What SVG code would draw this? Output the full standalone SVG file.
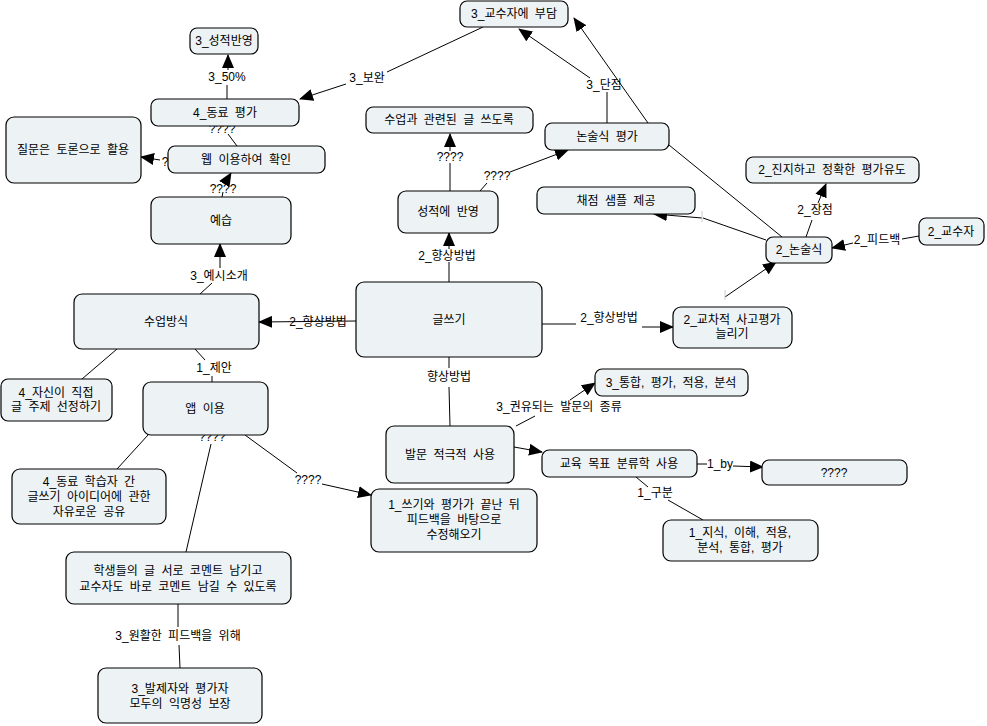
<svg xmlns="http://www.w3.org/2000/svg" width="987" height="726" viewBox="0 0 987 726">
<style>
.n rect{fill:#edf2f5;stroke:#000;stroke-width:1.2}
text{font-family:"Liberation Sans","Noto Sans CJK KR",sans-serif;font-size:12px;fill:#000;text-anchor:middle;word-spacing:3px}
.c line{stroke:#000;stroke-width:1}
.c line.t{stroke:#ccc}
.a{marker-end:url(#ah)}
</style>
<defs>
<marker id="ah" markerUnits="userSpaceOnUse" markerWidth="14" markerHeight="12" viewBox="0 0 14 12" refX="13" refY="6" orient="auto">
<path d="M0,0 L14,6 L0,12 z" fill="#000"/>
</marker>
</defs>
<rect width="987" height="726" fill="#fff"/>
<g class="c" id="connectors">
<line x1="227" y1="99" x2="227" y2="85"/>
<line class="a" x1="228" y1="70" x2="228" y2="55"/>
<text x="227" y="81">3_50%</text>
<line x1="483" y1="27" x2="387" y2="72"/>
<line class="a" x1="346" y1="84" x2="300" y2="99"/>
<text x="367" y="82">3_보완</text>
<line x1="607" y1="123" x2="607" y2="92"/>
<line class="a" x1="590" y1="78" x2="519" y2="29"/>
<text x="604" y="89">3_단점</text>
<line class="a" x1="648" y1="123" x2="574" y2="18"/>
<line x1="669" y1="145" x2="782" y2="237"/>
<line x1="450" y1="191" x2="450" y2="163"/>
<line class="a" x1="450" y1="151" x2="450" y2="134"/>
<text x="450" y="161">????</text>
<line x1="480" y1="191" x2="487" y2="183"/>
<line class="a" x1="510" y1="172" x2="568" y2="150"/>
<text x="497" y="180">????</text>
<line x1="449" y1="282" x2="449" y2="262"/>
<line class="a" x1="449" y1="249" x2="449" y2="233"/>
<text x="447" y="260">2_향상방법</text>
<line class="a" x1="356" y1="321" x2="259" y2="322"/>
<text x="318" y="326">2_향상방법</text>
<line x1="542" y1="324" x2="576" y2="324"/>
<line class="a" x1="642" y1="327" x2="673" y2="327"/>
<text x="609" y="322">2_향상방법</text>
<line class="a" x1="725" y1="297" x2="776" y2="262"/>
<line class="t" x1="725" y1="290" x2="725" y2="300"/>
<line x1="806" y1="237" x2="812" y2="220"/>
<line class="a" x1="818" y1="203" x2="826" y2="184"/>
<text x="815" y="214">2_장점</text>
<line x1="919" y1="236" x2="902" y2="239"/>
<line class="a" x1="853" y1="243" x2="832" y2="248"/>
<text x="877" y="244">2_피드백</text>
<line x1="766" y1="240" x2="703" y2="218"/>
<line class="a" x1="702" y1="218" x2="654" y2="214"/>
<line class="t" x1="702" y1="211" x2="702" y2="222"/>
<line x1="200" y1="294" x2="212" y2="283"/>
<line class="a" x1="220" y1="268" x2="220" y2="244"/>
<text x="219" y="280">3_예시소개</text>
<line x1="222" y1="197" x2="223" y2="192"/>
<line class="a" x1="225" y1="183" x2="231" y2="173"/>
<text x="223" y="193">????</text>
<line x1="237" y1="146" x2="228" y2="134"/>
<text x="222" y="133">????</text>
<line class="a" x1="160" y1="160" x2="141" y2="157"/>
<text x="165" y="166">?</text>
<line x1="117" y1="349" x2="82" y2="379"/>
<line x1="195" y1="349" x2="205" y2="360"/>
<line x1="212" y1="376" x2="212" y2="382"/>
<text x="214" y="372">1_제안</text>
<line x1="148" y1="435" x2="117" y2="469"/>
<line x1="211" y1="444" x2="186" y2="552"/>
<text x="212" y="441">????</text>
<line x1="245" y1="435" x2="297" y2="473"/>
<line class="a" x1="322" y1="484" x2="371" y2="495"/>
<text x="308" y="484">????</text>
<line x1="178" y1="604" x2="178" y2="627"/>
<line x1="179" y1="645" x2="180" y2="668"/>
<text x="178" y="640">3_원활한 피드백을 위해</text>
<line x1="449" y1="357" x2="449" y2="368"/>
<line x1="449" y1="387" x2="450" y2="426"/>
<text x="449" y="381">향상방법</text>
<line x1="516" y1="426" x2="535" y2="416"/>
<line class="a" x1="570" y1="400" x2="595" y2="383"/>
<text x="559" y="411">3_권유되는 발문의 종류</text>
<line class="a" x1="514" y1="447" x2="542" y2="452"/>
<line x1="697" y1="464" x2="707" y2="464"/>
<line class="a" x1="733" y1="466" x2="763" y2="467"/>
<text x="720" y="468">1_by</text>
<line x1="636" y1="477" x2="648" y2="487"/>
<line x1="668" y1="500" x2="703" y2="520"/>
<text x="655" y="497">1_구분</text>
</g>
<g class="n" id="n1"><rect x="460" y="1" width="108" height="26" rx="7"/><text x="514" y="18">3_교수자에 부담</text></g>
<g class="n" id="n2"><rect x="190" y="28" width="68" height="26" rx="7"/><text x="224" y="45">3_성적반영</text></g>
<g class="n" id="n3"><rect x="151" y="99" width="148" height="27" rx="7"/><text x="225" y="117">4_동료 평가</text></g>
<g class="n" id="n4"><rect x="6" y="117" width="135" height="66" rx="8"/><text x="73" y="154">질문은 토론으로 활용</text></g>
<g class="n" id="n5"><rect x="168" y="146" width="157" height="27" rx="7"/><text x="246" y="164">웹 이용하여 확인</text></g>
<g class="n" id="n6"><rect x="151" y="197" width="140" height="47" rx="8"/><text x="221" y="225">예습</text></g>
<g class="n" id="n7"><rect x="366" y="107" width="167" height="26" rx="7"/><text x="449" y="124">수업과 관련된 글 쓰도록</text></g>
<g class="n" id="n8"><rect x="545" y="123" width="124" height="27" rx="7"/><text x="607" y="141">논술식 평가</text></g>
<g class="n" id="n9"><rect x="398" y="191" width="100" height="42" rx="8"/><text x="448" y="216">성적에 반영</text></g>
<g class="n" id="n10"><rect x="537" y="187" width="158" height="27" rx="7"/><text x="616" y="205">채점 샘플 제공</text></g>
<g class="n" id="n11"><rect x="746" y="157" width="173" height="26" rx="7"/><text x="832" y="174">2_진지하고 정확한 평가유도</text></g>
<g class="n" id="n12"><rect x="766" y="237" width="66" height="26" rx="7"/><text x="799" y="254">2_논술식</text></g>
<g class="n" id="n13"><rect x="919" y="218" width="65" height="27" rx="7"/><text x="951" y="236">2_교수자</text></g>
<g class="n" id="n14"><rect x="74" y="294" width="185" height="55" rx="8"/><text x="166" y="326">수업방식</text></g>
<g class="n" id="n15"><rect x="356" y="282" width="186" height="75" rx="8"/><text x="449" y="324">글쓰기</text></g>
<g class="n" id="n16"><rect x="673" y="307" width="119" height="41" rx="8"/><text x="732" y="324">2_교차적 사고평가</text><text x="732" y="338">늘리기</text></g>
<g class="n" id="n17"><rect x="595" y="369" width="153" height="27" rx="7"/><text x="671" y="387">3_통합, 평가, 적용, 분석</text></g>
<g class="n" id="n18"><rect x="1" y="379" width="111" height="42" rx="7"/><text x="56" y="397">4_자신이 직접</text><text x="56" y="411">글 주제 선정하기</text></g>
<g class="n" id="n19"><rect x="143" y="382" width="125" height="53" rx="8"/><text x="205" y="413">앱 이용</text></g>
<g class="n" id="n20"><rect x="386" y="426" width="128" height="57" rx="8"/><text x="450" y="459">발문 적극적 사용</text></g>
<g class="n" id="n21"><rect x="542" y="450" width="155" height="27" rx="7"/><text x="619" y="468">교육 목표 분류학 사용</text></g>
<g class="n" id="n22"><rect x="762" y="460" width="145" height="25" rx="7"/><text x="834" y="477">????</text></g>
<g class="n" id="n23"><rect x="663" y="520" width="155" height="41" rx="8"/><text x="740" y="537">1_지식, 이해, 적용,</text><text x="740" y="552">분석, 통합, 평가</text></g>
<g class="n" id="n24"><rect x="12" y="469" width="154" height="55" rx="8"/><text x="89" y="486">4_동료 학습자 간</text><text x="89" y="501">글쓰기 아이디어에 관한</text><text x="89" y="516">자유로운 공유</text></g>
<g class="n" id="n25"><rect x="371" y="489" width="166" height="63" rx="8"/><text x="454" y="509">1_쓰기와 평가가 끝난 뒤</text><text x="454" y="524">피드백을 바탕으로</text><text x="454" y="539">수정해오기</text></g>
<g class="n" id="n26"><rect x="66" y="552" width="225" height="52" rx="8"/><text x="178" y="575">학생들의 글 서로 코멘트 남기고</text><text x="178" y="591">교수자도 바로 코멘트 남길 수 있도록</text></g>
<g class="n" id="n27"><rect x="98" y="668" width="164" height="55" rx="8"/><text x="180" y="693">3_발제자와 평가자</text><text x="180" y="708">모두의 익명성 보장</text></g>
</svg>
